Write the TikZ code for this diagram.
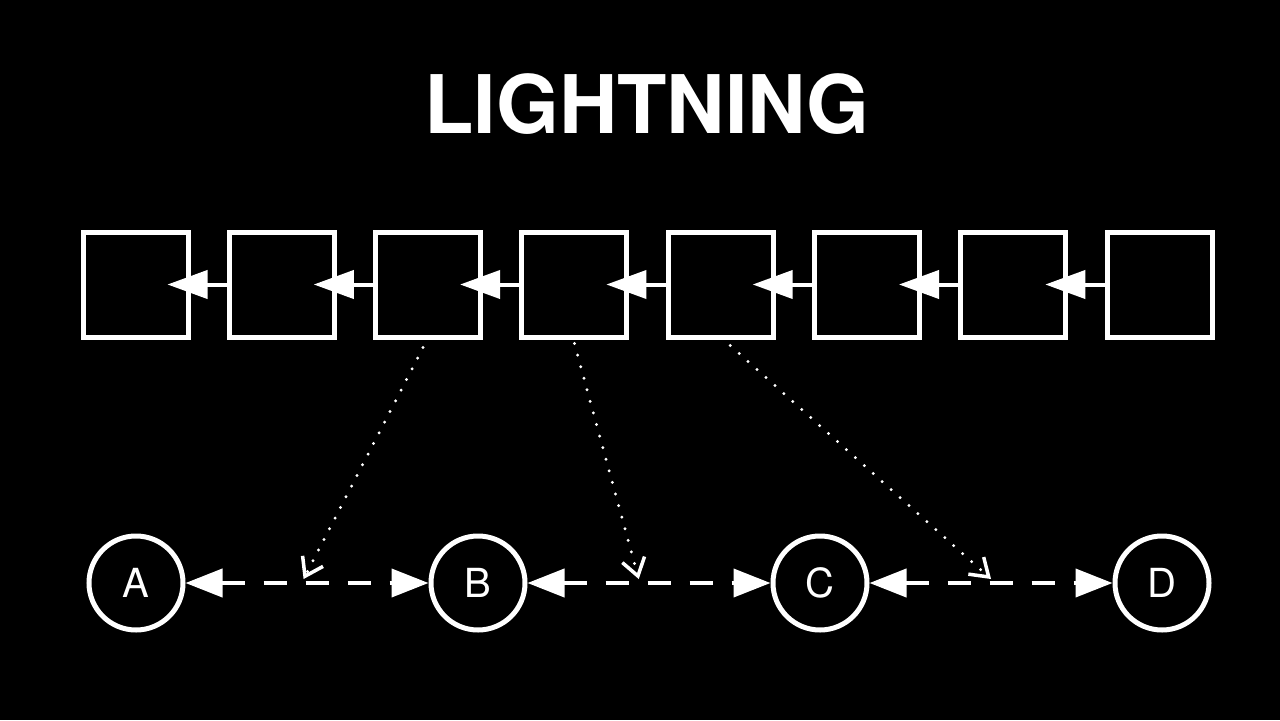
\documentclass[tikz,border=0pt]{standalone}
\usepackage{fontspec}
\setmainfont{TeX Gyre Heros}
\usetikzlibrary{arrows.meta, positioning, calc}

\begin{document}
\begin{tikzpicture}[
  blk/.style={draw=white, line width=0.1cm, minimum size=2.1cm, inner sep=0},
  peer/.style={circle, draw=white, line width=0.1cm, minimum size=1.88cm, inner sep=0, text=white, font=\fontsize{22.8}{24}\selectfont},
  link/.style={white, line width=0.08cm, -{Triangle[length=0.8cm, width=0.56cm]}},
  chan/.style={white, line width=0.08cm, dash pattern=on 0.46cm off 0.38cm, {Triangle[length=0.74cm, width=0.56cm]}-{Triangle[length=0.74cm, width=0.56cm]}},
  settle/.style={white, line width=0.065cm, line cap=round, dash pattern=on 0pt off 0.24cm, -{Straight Barb[length=0.34cm, width=0.46cm, line width=0.07cm]}}
]
\fill[black] (0,0) rectangle (25.6,-14.4);
\useasboundingbox (0,0) rectangle (25.6,-14.4);
\node[text=white, font=\fontsize{46}{50}\selectfont\bfseries, anchor=base] (title) at (12.94,-2.66) {LIGHTNING};
\node[blk] (b1) at (2.71,-5.69) {};
\node[blk, right=0.726cm of b1] (b2) {};
\node[blk, right=0.726cm of b2] (b3) {};
\node[blk, right=0.726cm of b3] (b4) {};
\node[blk, right=0.726cm of b4] (b5) {};
\node[blk, right=0.726cm of b5] (b6) {};
\node[blk, right=0.726cm of b6] (b7) {};
\node[blk, right=0.726cm of b7] (b8) {};
\draw[link] (b2.west) -- ([xshift=-0.46cm]b1.east);
\draw[link] (b3.west) -- ([xshift=-0.46cm]b2.east);
\draw[link] (b4.west) -- ([xshift=-0.46cm]b3.east);
\draw[link] (b5.west) -- ([xshift=-0.46cm]b4.east);
\draw[link] (b6.west) -- ([xshift=-0.46cm]b5.east);
\draw[link] (b7.west) -- ([xshift=-0.46cm]b6.east);
\draw[link] (b8.west) -- ([xshift=-0.46cm]b7.east);
\node[peer] (A) at (2.72,-11.66) {A};
\node[peer, right=4.86cm of A] (B) {B};
\node[peer, right=4.86cm of B] (C) {C};
\node[peer, right=4.86cm of C] (D) {D};
\draw[chan] (A.east) -- (B.west);
\draw[chan] (B.east) -- (C.west);
\draw[chan] (C.east) -- (D.west);
\coordinate (p1) at ($(A)!0.49!(B)+(0,0.08)$);
\coordinate (p2) at ($(B)!0.47!(C)+(0,0.08)$);
\coordinate (p3) at ($(C)!0.50!(D)+(0,0.08)$);
\draw[settle] ([xshift=-0.1cm, yshift=-0.16cm]b3.south) -- (p1);
\draw[settle] ([yshift=-0.08cm]b4.south) -- (p2);
\draw[settle] ([xshift=0.19cm, yshift=-0.12cm]b5.south) -- (p3);
\end{tikzpicture}
\end{document}
